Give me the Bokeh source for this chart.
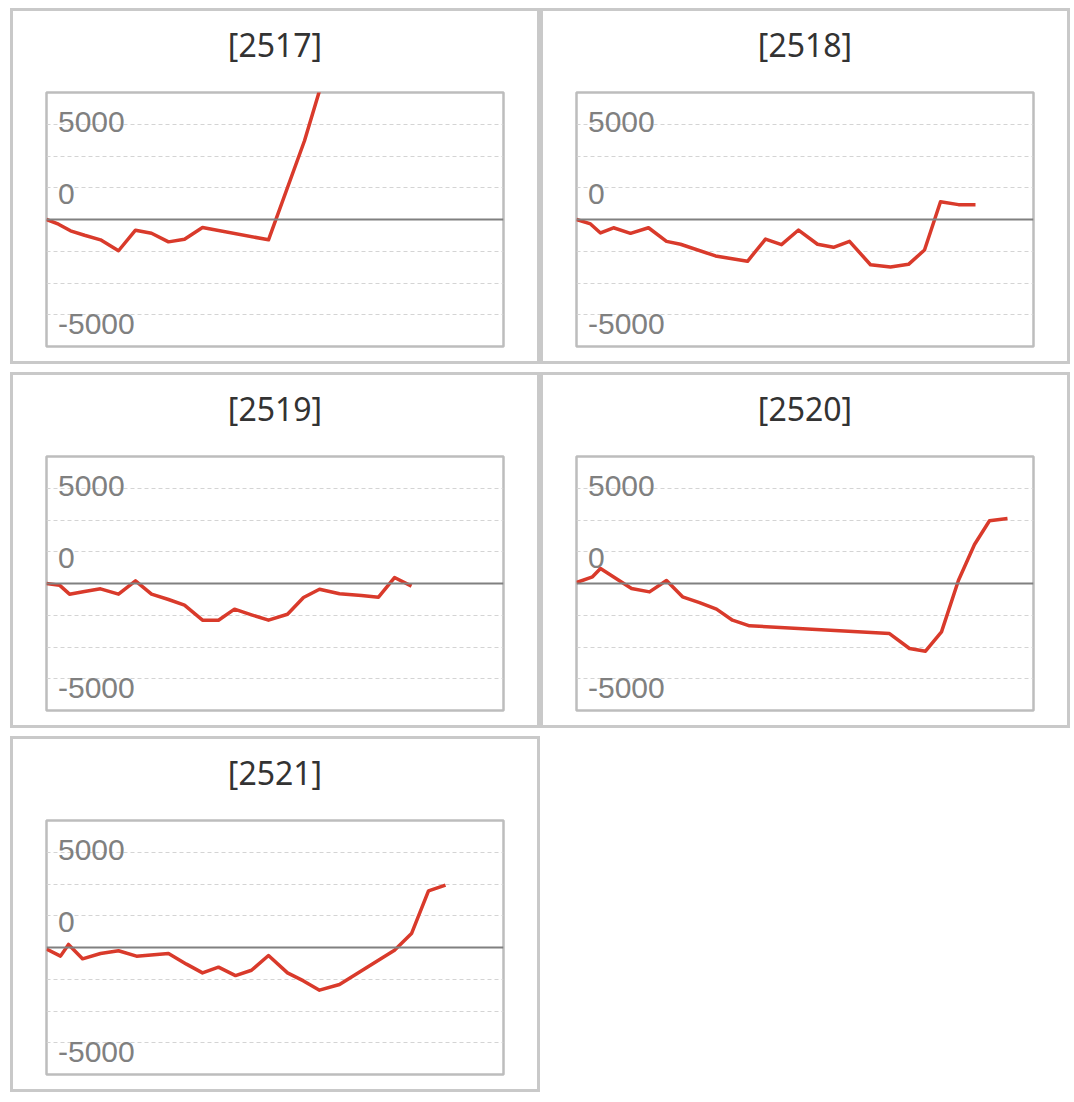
import numpy as np
from bokeh.plotting import figure
from bokeh.layouts import column, row
from bokeh.models import Range1d, FixedTicker, Span, ColumnDataSource, Title
from bokeh.core.properties import value
from bokeh.embed import file_html
from bokeh.resources import INLINE

# ---------------- data ----------------
titles = ["[2517]", "[2518]", "[2519]", "[2520]", "[2521]"]

x_2517 = [0, 12, 24, 38, 54, 72, 89, 105, 122, 138, 156, 222, 258, 274]
y_2517 = [0, -370, -890, -1240, -1600, -2460, -840, -1080, -1760, -1550, -630,
          -1600, 6200, 10400]

x_2518 = [0, 14, 24, 37, 54, 72, 90, 104, 139, 171, 189, 205, 222, 241, 257,
          273, 294, 314, 332, 348, 364, 382, 399]
y_2518 = [0, -350, -1060, -650, -1090, -650, -1720, -1950, -2870, -3290, -1540,
          -1980, -830, -1950, -2190, -1720, -3560, -3740, -3530, -2400, 1400,
          1170, 1170]

x_2519 = [0, 13, 23, 38, 54, 72, 89, 105, 122, 138, 156, 172, 188, 205, 222,
          241, 257, 273, 293, 315, 332, 348, 365]
y_2519 = [0, -130, -840, -630, -420, -840, 210, -840, -1260, -1710, -2890,
          -2890, -2020, -2470, -2890, -2420, -1100, -450, -810, -940, -1080,
          470, -210]

x_2520 = [0, 16, 24, 55, 73, 90, 106, 123, 140, 156, 173, 313, 333, 349, 365,
          382, 398, 413, 431]
y_2520 = [80, 525, 1180, -390, -660, 240, -1050, -1500, -2020, -2890, -3330,
          -3940, -5120, -5330, -3810, 260, 3070, 4940, 5120]

x_2521 = [0, 14, 22, 36, 54, 72, 90, 122, 140, 156, 172, 189, 205, 222, 241,
          257, 273, 293, 348, 365, 382, 399]
y_2521 = [-130, -680, 240, -890, -470, -260, -680, -470, -1310, -2000, -1550,
          -2210, -1790, -630, -2000, -2630, -3360, -2910, -210, 1100, 4460, 4910]

series_x = [x_2517, x_2518, x_2519, x_2520, x_2521]
series_y = [y_2517, y_2518, y_2519, y_2520, y_2521]

ytick_labels = ["5000", "0", "-5000"]

# ---------------- layout / style constants ----------------
W, H = 524, 350
B_LEFT, B_RIGHT, B_TOP, B_BOTTOM = 33, 34, 81, 15
X_MAX = 457
Y_MIN, Y_MAX = -10000, 10000
GRID_STEP = 2500
LABEL_ANCHORS = [7700, 2000, -8250]   # where the (offset) labels sit
LINE_COLOR = "#d93a2b"
FONT = "Liberation Sans"
TITLE_FONT = "Noto Sans"


def make_panel(title, xs, ys):
    p = figure(width=W, height=H, output_backend="svg", toolbar_location=None,
               x_range=Range1d(0, X_MAX), y_range=Range1d(Y_MIN, Y_MAX),
               min_border_left=B_LEFT, min_border_right=B_RIGHT,
               min_border_top=B_TOP, min_border_bottom=B_BOTTOM)
    p.xaxis.visible = False
    p.yaxis.visible = False
    p.xgrid.visible = False
    ticks = [t for t in np.arange(-3 * GRID_STEP, 3 * GRID_STEP + 1, GRID_STEP) if t != 0]
    p.ygrid.ticker = FixedTicker(ticks=[float(t) for t in ticks])
    p.ygrid.grid_line_color = "#d4d4d4"
    p.ygrid.grid_line_dash = "4 3"
    p.ygrid.grid_line_width = 1
    p.outline_line_color = "#bdbdbd"
    p.outline_line_width = 2.5
    p.background_fill_color = "white"
    p.border_fill_color = "white"

    # blank spacer between the title and the plot box (added first = nearest box)
    p.add_layout(Title(text=" ", text_font=FONT, text_font_size="10px",
                       standoff=12), "above")
    p.add_layout(Title(text=title, align="center", text_font=TITLE_FONT,
                       text_font_size="32px", text_font_style="normal",
                       text_color="#333333", standoff=4), "above")

    p.add_layout(Span(location=0, dimension="width", line_color="#808080",
                      line_width=2))

    lbl = ColumnDataSource(dict(x=[0] * len(ytick_labels), y=LABEL_ANCHORS,
                                t=ytick_labels))
    p.text(x="x", y="y", text="t", source=lbl, x_offset=11.5,
           text_font=value(FONT), text_font_size="30px", text_color="#808080",
           text_baseline="alphabetic", text_align="left")

    p.line(xs, ys, line_color=LINE_COLOR, line_width=3.5, line_join="round")
    return p


BORDER = {"border": "3px solid #c9c9c9"}
panels = [column(make_panel(t, xs, ys), styles=BORDER)
          for t, xs, ys in zip(titles, series_x, series_y)]

page = column(row(panels[0], panels[1]), row(panels[2], panels[3]), row(panels[4]),
              spacing=8, margin=(8, 0, 0, 10))

open("out.html", "w").write(file_html(page, INLINE))
